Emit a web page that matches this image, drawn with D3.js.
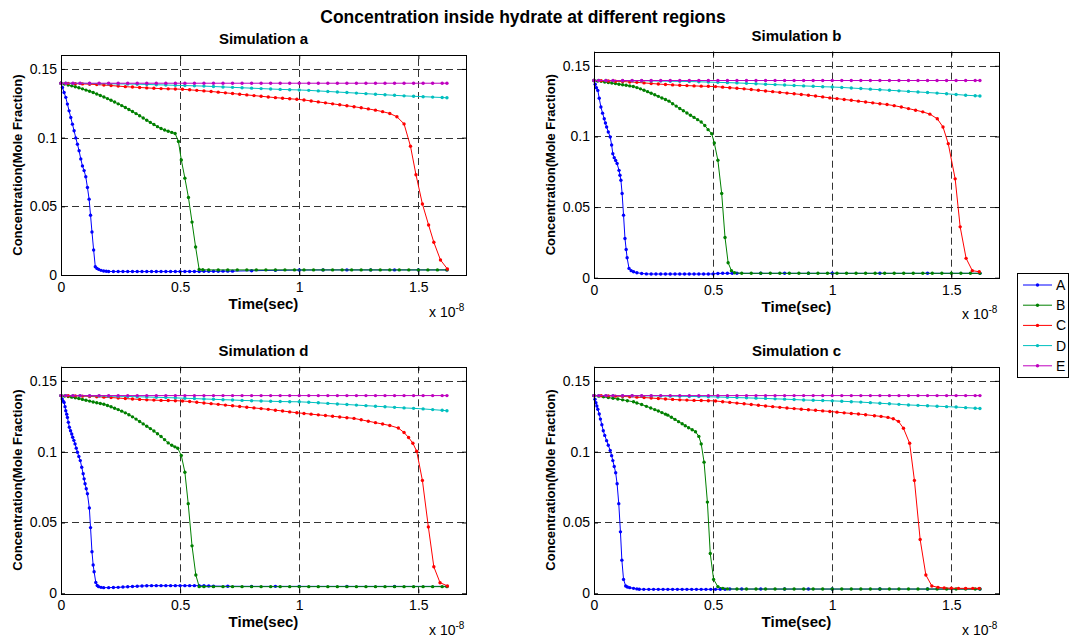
<!DOCTYPE html>
<html><head><meta charset="utf-8">
<script src="https://cdn.jsdelivr.net/npm/d3@7"></script>
<style>body{margin:0;background:#fff}svg{display:block}text{font-family:"Liberation Sans",Arial,Helvetica,sans-serif}</style>
</head><body><script>
// ---------------- DATA (time in units of 1e-8 s, concentration in mole fraction) ----------------
const mainTitle = "Concentration inside hydrate at different regions";
const panelTitles = ["Simulation a", "Simulation b", "Simulation d", "Simulation c"];
const seriesNames = ["A", "B", "C", "D", "E"];
const xTicks = [0, 0.5, 1, 1.5];
const xTickLabels = ["0", "0.5", "1", "1.5"];
const yTicks = [0, 0.05, 0.1, 0.15];
const yTickLabels = ["0", "0.05", "0.1", "0.15"];
const xLabel = "Time(sec)";
const yLabel = "Concentration(Mole Fraction)";
const xDomain = [0, 1.7];
const yDomain = [0, 0.16];

// shared time grid of the slow series D and E
const tDE = [0,0.02,0.05,0.08,0.12,0.16,0.2,0.24,0.28,0.32,0.36,0.4,0.44,0.48,0.52,0.56,0.6,0.64,0.68,0.72,0.76,0.8,0.84,0.88,0.92,0.96,1.0,1.04,1.08,1.12,1.16,1.2,1.24,1.28,1.32,1.36,1.4,1.44,1.48,1.52,1.56,1.6,1.62];
const valsE = [0.1396,0.1396,0.1396,0.1396,0.1396,0.1396,0.1396,0.1396,0.1396,0.1396,0.1396,0.1396,0.1396,0.1396,0.1396,0.1396,0.1396,0.1396,0.1396,0.1396,0.1396,0.1396,0.1396,0.1396,0.1396,0.1396,0.1396,0.1396,0.1396,0.1396,0.1396,0.1396,0.1396,0.1396,0.1396,0.1396,0.1396,0.1396,0.1396,0.1396,0.1396,0.1396,0.1396];

// ---- Simulation a ----
const simA_A = [[0,0.1396],[0.006,0.1365],[0.013,0.1329],[0.020,0.1293],[0.027,0.1244],[0.034,0.1195],[0.041,0.1146],[0.048,0.1098],[0.055,0.1050],[0.062,0.0998],[0.069,0.0952],[0.076,0.0904],[0.083,0.0845],[0.090,0.0794],[0.097,0.0760],[0.104,0.0715],[0.111,0.0637],[0.118,0.0552],[0.124,0.0435],[0.130,0.0313],[0.137,0.0182],[0.144,0.0060],[0.151,0.0048],[0.158,0.0041],[0.168,0.0034],[0.179,0.0029],[0.19,0.0027],[0.20,0.0026],[0.22,0.0025],[0.24,0.0025],[0.26,0.0025],[0.28,0.0025],[0.30,0.0025],[0.32,0.0025],[0.34,0.0025],[0.36,0.0025],[0.38,0.0025],[0.40,0.0025],[0.42,0.0025],[0.44,0.0025],[0.46,0.0025],[0.48,0.0025],[0.50,0.0025],[0.52,0.0026],[0.54,0.0026],[0.56,0.0026],[0.58,0.0026],[0.60,0.0027],[0.62,0.0027],[0.64,0.0027],[0.66,0.0027],[0.68,0.0028],[0.70,0.0028],[0.72,0.0028],[0.8,0.0031],[0.9,0.0034],[1.0,0.0036],[1.1,0.0037],[1.2,0.0037],[1.3,0.0037],[1.4,0.0037],[1.5,0.0037],[1.62,0.0037]];
const simA_B = [[0,0.1396],[0.015,0.1390],[0.03,0.1383],[0.045,0.1377],[0.06,0.1370],[0.075,0.1363],[0.09,0.1355],[0.105,0.1346],[0.12,0.1338],[0.135,0.1328],[0.15,0.1318],[0.165,0.1307],[0.18,0.1296],[0.195,0.1284],[0.21,0.1272],[0.225,0.1259],[0.24,0.1246],[0.255,0.1233],[0.27,0.1219],[0.285,0.1205],[0.30,0.1190],[0.315,0.1175],[0.33,0.1159],[0.345,0.1143],[0.36,0.1127],[0.375,0.1111],[0.39,0.1095],[0.405,0.1080],[0.42,0.1066],[0.435,0.1055],[0.45,0.1046],[0.465,0.1038],[0.479,0.1030],[0.493,0.0972],[0.505,0.0838],[0.520,0.0705],[0.535,0.0564],[0.550,0.0385],[0.565,0.0204],[0.580,0.0040],[0.595,0.0038],[0.62,0.0037],[0.66,0.0037],[0.70,0.0037],[0.74,0.0037],[0.78,0.0037],[0.82,0.0037],[0.86,0.0037],[0.90,0.0037],[0.94,0.0037],[0.98,0.0037],[1.02,0.0037],[1.06,0.0037],[1.10,0.0037],[1.14,0.0037],[1.18,0.0037],[1.22,0.0037],[1.26,0.0037],[1.30,0.0037],[1.34,0.0037],[1.38,0.0037],[1.42,0.0037],[1.46,0.0037],[1.50,0.0037],[1.54,0.0037],[1.58,0.0037],[1.62,0.0037]];
const simA_C = [[0,0.1396],[0.03,0.1395],[0.06,0.1393],[0.09,0.1391],[0.12,0.1389],[0.15,0.1386],[0.18,0.1383],[0.21,0.1379],[0.24,0.1375],[0.27,0.1371],[0.30,0.1368],[0.33,0.1365],[0.36,0.1362],[0.39,0.1359],[0.42,0.1357],[0.45,0.1355],[0.48,0.1354],[0.51,0.1352],[0.54,0.1348],[0.57,0.1344],[0.60,0.1340],[0.63,0.1336],[0.66,0.1331],[0.69,0.1326],[0.72,0.1321],[0.75,0.1316],[0.78,0.1311],[0.81,0.1306],[0.84,0.1301],[0.87,0.1296],[0.90,0.1291],[0.93,0.1287],[0.96,0.1283],[0.99,0.1279],[1.02,0.1274],[1.05,0.1267],[1.08,0.1260],[1.11,0.1253],[1.14,0.1246],[1.17,0.1239],[1.20,0.1232],[1.23,0.1225],[1.26,0.1217],[1.29,0.1209],[1.32,0.1200],[1.35,0.1189],[1.38,0.1176],[1.41,0.1152],[1.44,0.1100],[1.467,0.0937],[1.49,0.0730],[1.517,0.0517],[1.543,0.0364],[1.565,0.0238],[1.593,0.0109],[1.622,0.0044]];
const simA_D = [0.1396,0.1396,0.1395,0.1395,0.1394,0.1393,0.1392,0.1391,0.1390,0.1389,0.1387,0.1385,0.1383,0.1381,0.1379,0.1377,0.1375,0.1372,0.1369,0.1366,0.1363,0.1360,0.1357,0.1354,0.1351,0.1349,0.1347,0.1344,0.1340,0.1336,0.1332,0.1328,0.1324,0.1320,0.1316,0.1312,0.1308,0.1304,0.1301,0.1298,0.1295,0.1292,0.1290];

// ---- Simulation b ----
const simB_A = [[0,0.1396],[0.005,0.1370],[0.010,0.1345],[0.016,0.1326],[0.022,0.1270],[0.029,0.1208],[0.036,0.1165],[0.043,0.1125],[0.048,0.1095],[0.053,0.1067],[0.060,0.1032],[0.068,0.0996],[0.074,0.0940],[0.079,0.0878],[0.085,0.0850],[0.091,0.0830],[0.097,0.0808],[0.105,0.0760],[0.109,0.0725],[0.113,0.0690],[0.118,0.0596],[0.124,0.0443],[0.130,0.0278],[0.135,0.0200],[0.139,0.0141],[0.147,0.0066],[0.156,0.0050],[0.166,0.0042],[0.18,0.0035],[0.20,0.0030],[0.22,0.0027],[0.24,0.0026],[0.26,0.0026],[0.28,0.0026],[0.30,0.0026],[0.32,0.0026],[0.34,0.0026],[0.36,0.0026],[0.38,0.0026],[0.40,0.0026],[0.42,0.0026],[0.44,0.0026],[0.46,0.0026],[0.48,0.0026],[0.50,0.0027],[0.52,0.0030],[0.54,0.0031],[0.56,0.0031],[0.58,0.0031],[0.60,0.0031],[0.7,0.0031],[0.8,0.0031],[0.9,0.0031],[1.0,0.0031],[1.2,0.0031],[1.4,0.0031],[1.62,0.0031]];
const simB_B = [[0,0.1396],[0.015,0.1393],[0.03,0.1390],[0.045,0.1386],[0.06,0.1382],[0.075,0.1378],[0.09,0.1374],[0.105,0.1370],[0.12,0.1366],[0.135,0.1362],[0.15,0.1358],[0.165,0.1354],[0.18,0.1346],[0.195,0.1337],[0.21,0.1327],[0.225,0.1317],[0.24,0.1306],[0.255,0.1295],[0.27,0.1284],[0.285,0.1272],[0.30,0.1262],[0.315,0.1250],[0.33,0.1232],[0.345,0.1215],[0.36,0.1198],[0.375,0.1182],[0.39,0.1166],[0.405,0.1150],[0.42,0.1135],[0.435,0.1119],[0.45,0.1102],[0.465,0.1078],[0.479,0.1048],[0.494,0.1020],[0.505,0.0954],[0.520,0.0831],[0.536,0.0596],[0.550,0.0285],[0.563,0.0106],[0.577,0.0050],[0.59,0.0035],[0.62,0.0031],[0.66,0.0031],[0.70,0.0031],[0.74,0.0031],[0.78,0.0031],[0.82,0.0031],[0.86,0.0031],[0.90,0.0031],[0.94,0.0031],[0.98,0.0031],[1.02,0.0031],[1.06,0.0031],[1.10,0.0031],[1.14,0.0031],[1.18,0.0031],[1.22,0.0031],[1.26,0.0031],[1.30,0.0031],[1.34,0.0031],[1.38,0.0031],[1.42,0.0031],[1.46,0.0031],[1.50,0.0031],[1.54,0.0031],[1.58,0.0031],[1.62,0.0031]];
const simB_C = [[0,0.1396],[0.03,0.1395],[0.06,0.1393],[0.09,0.1391],[0.12,0.1389],[0.15,0.1386],[0.18,0.1383],[0.21,0.1379],[0.24,0.1375],[0.27,0.1371],[0.30,0.1368],[0.33,0.1365],[0.36,0.1362],[0.39,0.1360],[0.42,0.1358],[0.45,0.1356],[0.48,0.1355],[0.51,0.1353],[0.54,0.1349],[0.57,0.1345],[0.60,0.1341],[0.63,0.1337],[0.66,0.1332],[0.69,0.1327],[0.72,0.1322],[0.75,0.1317],[0.78,0.1312],[0.81,0.1307],[0.84,0.1302],[0.87,0.1297],[0.90,0.1292],[0.93,0.1286],[0.96,0.1280],[0.99,0.1273],[1.02,0.1268],[1.05,0.1262],[1.08,0.1256],[1.11,0.1250],[1.14,0.1244],[1.17,0.1238],[1.20,0.1232],[1.23,0.1226],[1.26,0.1218],[1.29,0.1208],[1.32,0.1197],[1.35,0.1186],[1.38,0.1174],[1.41,0.1158],[1.441,0.1125],[1.465,0.1067],[1.487,0.0949],[1.516,0.0700],[1.537,0.0360],[1.562,0.0137],[1.588,0.0050],[1.617,0.0042]];
const simB_D = [0.1396,0.1396,0.1396,0.1395,0.1395,0.1394,0.1394,0.1393,0.1392,0.1391,0.1390,0.1389,0.1387,0.1385,0.1383,0.1381,0.1379,0.1376,0.1373,0.1370,0.1367,0.1364,0.1361,0.1358,0.1355,0.1352,0.1350,0.1347,0.1343,0.1339,0.1335,0.1331,0.1327,0.1323,0.1319,0.1315,0.1311,0.1307,0.1302,0.1297,0.1292,0.1288,0.1286];

// ---- Simulation d ----
const simD_A = [[0,0.1396],[0.005,0.1372],[0.009,0.1357],[0.013,0.1348],[0.017,0.1318],[0.020,0.1289],[0.024,0.1265],[0.027,0.1242],[0.031,0.1207],[0.035,0.1172],[0.040,0.1148],[0.045,0.1125],[0.049,0.1102],[0.054,0.1080],[0.059,0.1055],[0.064,0.1025],[0.069,0.0996],[0.075,0.0966],[0.081,0.0937],[0.087,0.0890],[0.093,0.0844],[0.097,0.0808],[0.101,0.0773],[0.106,0.0738],[0.111,0.0703],[0.119,0.0602],[0.124,0.0464],[0.130,0.0293],[0.135,0.0200],[0.139,0.0152],[0.146,0.0077],[0.152,0.0055],[0.158,0.0047],[0.168,0.0042],[0.179,0.0040],[0.20,0.0040],[0.22,0.0041],[0.24,0.0042],[0.26,0.0044],[0.28,0.0046],[0.30,0.0048],[0.32,0.0050],[0.34,0.0052],[0.36,0.0053],[0.38,0.0054],[0.40,0.0054],[0.42,0.0054],[0.44,0.0054],[0.46,0.0054],[0.48,0.0054],[0.50,0.0054],[0.52,0.0054],[0.54,0.0054],[0.56,0.0054],[0.58,0.0054],[0.60,0.0053],[0.62,0.0052],[0.64,0.0051],[0.7,0.0050],[0.8,0.0049],[0.9,0.0049],[1.0,0.0049],[1.2,0.0049],[1.4,0.0049],[1.62,0.0049]];
const simD_B = [[0,0.1396],[0.015,0.1393],[0.03,0.1389],[0.045,0.1385],[0.06,0.1380],[0.075,0.1375],[0.09,0.1369],[0.105,0.1363],[0.12,0.1357],[0.135,0.1351],[0.15,0.1345],[0.165,0.1340],[0.18,0.1335],[0.195,0.1326],[0.21,0.1317],[0.225,0.1307],[0.24,0.1297],[0.255,0.1286],[0.27,0.1274],[0.285,0.1261],[0.30,0.1246],[0.315,0.1230],[0.33,0.1213],[0.345,0.1196],[0.36,0.1180],[0.375,0.1163],[0.39,0.1146],[0.405,0.1127],[0.42,0.1107],[0.435,0.1085],[0.45,0.1062],[0.465,0.1045],[0.478,0.1034],[0.49,0.1024],[0.505,0.0973],[0.520,0.0855],[0.534,0.0633],[0.550,0.0335],[0.566,0.0129],[0.580,0.0047],[0.60,0.0047],[0.64,0.0047],[0.68,0.0047],[0.72,0.0047],[0.76,0.0047],[0.80,0.0047],[0.84,0.0047],[0.88,0.0047],[0.92,0.0047],[0.96,0.0047],[1.00,0.0047],[1.04,0.0047],[1.08,0.0047],[1.12,0.0047],[1.16,0.0047],[1.20,0.0047],[1.24,0.0047],[1.28,0.0047],[1.32,0.0047],[1.36,0.0047],[1.40,0.0047],[1.44,0.0047],[1.48,0.0047],[1.52,0.0047],[1.56,0.0047],[1.60,0.0047],[1.62,0.0047]];
const simD_C = [[0,0.1396],[0.03,0.1395],[0.06,0.1394],[0.09,0.1392],[0.12,0.1390],[0.15,0.1388],[0.18,0.1385],[0.21,0.1382],[0.24,0.1379],[0.27,0.1375],[0.30,0.1372],[0.33,0.1369],[0.36,0.1366],[0.39,0.1364],[0.42,0.1362],[0.45,0.1361],[0.48,0.1360],[0.51,0.1358],[0.54,0.1354],[0.57,0.1349],[0.60,0.1344],[0.63,0.1339],[0.66,0.1334],[0.69,0.1329],[0.72,0.1324],[0.75,0.1319],[0.78,0.1314],[0.81,0.1309],[0.84,0.1304],[0.87,0.1299],[0.90,0.1293],[0.93,0.1287],[0.96,0.1281],[0.99,0.1275],[1.02,0.1270],[1.05,0.1265],[1.08,0.1260],[1.11,0.1255],[1.14,0.1250],[1.17,0.1245],[1.20,0.1240],[1.23,0.1235],[1.26,0.1225],[1.29,0.1215],[1.32,0.1205],[1.35,0.1195],[1.38,0.1185],[1.416,0.1167],[1.44,0.1135],[1.459,0.1100],[1.477,0.1060],[1.493,0.1003],[1.517,0.0797],[1.542,0.0469],[1.565,0.0187],[1.591,0.0075],[1.622,0.0052]];
const simD_D = [0.1396,0.1396,0.1396,0.1395,0.1394,0.1393,0.1392,0.1391,0.1390,0.1388,0.1386,0.1384,0.1382,0.1380,0.1377,0.1375,0.1372,0.1370,0.1367,0.1365,0.1362,0.1360,0.1358,0.1356,0.1354,0.1353,0.1352,0.1349,0.1345,0.1341,0.1337,0.1333,0.1329,0.1325,0.1321,0.1317,0.1313,0.1309,0.1306,0.1302,0.1297,0.1292,0.1289];

// ---- Simulation c ----
const simC_A = [[0,0.1396],[0.004,0.1370],[0.008,0.1345],[0.012,0.1322],[0.016,0.1300],[0.022,0.1266],[0.027,0.1230],[0.033,0.1190],[0.039,0.1148],[0.045,0.1115],[0.053,0.1078],[0.060,0.1045],[0.068,0.1008],[0.074,0.0972],[0.079,0.0937],[0.085,0.0895],[0.091,0.0851],[0.097,0.0773],[0.104,0.0633],[0.111,0.0434],[0.117,0.0234],[0.124,0.0098],[0.133,0.0052],[0.140,0.0045],[0.150,0.0040],[0.166,0.0035],[0.18,0.0031],[0.19,0.0029],[0.209,0.0028],[0.23,0.0028],[0.25,0.0028],[0.27,0.0028],[0.29,0.0028],[0.31,0.0028],[0.33,0.0028],[0.35,0.0028],[0.37,0.0028],[0.39,0.0028],[0.41,0.0028],[0.43,0.0028],[0.45,0.0028],[0.47,0.0028],[0.49,0.0028],[0.51,0.0028],[0.53,0.0029],[0.55,0.0029],[0.57,0.0030],[0.62,0.0030],[0.7,0.0030],[0.8,0.0030],[0.9,0.0030],[1.0,0.0030],[1.2,0.0030],[1.4,0.0030],[1.62,0.0030]];
const simC_B = [[0,0.1396],[0.02,0.1392],[0.04,0.1387],[0.06,0.1382],[0.08,0.1377],[0.10,0.1372],[0.12,0.1366],[0.14,0.1360],[0.166,0.1352],[0.18,0.1344],[0.20,0.1333],[0.22,0.1320],[0.238,0.1308],[0.255,0.1297],[0.27,0.1287],[0.285,0.1276],[0.30,0.1265],[0.31,0.1258],[0.325,0.1243],[0.34,0.1228],[0.355,0.1212],[0.37,0.1197],[0.383,0.1183],[0.397,0.1169],[0.412,0.1155],[0.426,0.1141],[0.440,0.1108],[0.450,0.1055],[0.462,0.0926],[0.476,0.0644],[0.488,0.0281],[0.502,0.0098],[0.520,0.0047],[0.541,0.0035],[0.56,0.0031],[0.60,0.0030],[0.64,0.0030],[0.68,0.0030],[0.72,0.0030],[0.76,0.0030],[0.80,0.0030],[0.84,0.0030],[0.88,0.0030],[0.92,0.0030],[0.96,0.0030],[1.00,0.0030],[1.04,0.0030],[1.08,0.0030],[1.12,0.0030],[1.16,0.0030],[1.20,0.0030],[1.24,0.0030],[1.28,0.0030],[1.32,0.0030],[1.36,0.0030],[1.40,0.0030],[1.44,0.0030],[1.48,0.0030],[1.52,0.0030],[1.56,0.0030],[1.60,0.0030],[1.62,0.0030]];
const simC_C = [[0,0.1396],[0.03,0.1395],[0.06,0.1394],[0.09,0.1392],[0.12,0.1390],[0.15,0.1388],[0.18,0.1385],[0.21,0.1382],[0.24,0.1379],[0.27,0.1375],[0.30,0.1372],[0.33,0.1369],[0.36,0.1366],[0.39,0.1364],[0.42,0.1362],[0.45,0.1361],[0.48,0.1360],[0.51,0.1358],[0.54,0.1353],[0.57,0.1348],[0.60,0.1343],[0.63,0.1338],[0.66,0.1333],[0.69,0.1328],[0.72,0.1323],[0.75,0.1318],[0.78,0.1313],[0.81,0.1308],[0.84,0.1304],[0.87,0.1300],[0.90,0.1296],[0.93,0.1292],[0.96,0.1288],[0.99,0.1284],[1.02,0.1279],[1.05,0.1274],[1.08,0.1270],[1.11,0.1266],[1.14,0.1261],[1.177,0.1254],[1.205,0.1249],[1.234,0.1242],[1.256,0.1232],[1.278,0.1214],[1.299,0.1165],[1.325,0.1059],[1.345,0.0797],[1.369,0.0380],[1.393,0.0129],[1.418,0.0052],[1.444,0.0042],[1.47,0.0038],[1.50,0.0036],[1.53,0.0035],[1.56,0.0035],[1.59,0.0035],[1.617,0.0035]];
const simC_D = [0.1396,0.1396,0.1396,0.1396,0.1395,0.1395,0.1394,0.1394,0.1393,0.1392,0.1391,0.1390,0.1389,0.1388,0.1386,0.1384,0.1382,0.1380,0.1378,0.1376,0.1373,0.1371,0.1368,0.1365,0.1363,0.1361,0.1359,0.1356,0.1353,0.1350,0.1346,0.1342,0.1338,0.1334,0.1330,0.1327,0.1324,0.1321,0.1318,0.1315,0.1311,0.1307,0.1305];

// ---------------- STYLE / LAYOUT ----------------
const colors = ["#0000ff", "#008000", "#ff0000", "#00bfbf", "#bf00bf"];
const layouts = [
  {l: 61,  t: 55.2,  w: 405, h: 219.8},
  {l: 594, t: 51.7,  w: 405, h: 226},
  {l: 61,  t: 366.7, w: 405, h: 226.6},
  {l: 594, t: 366.7, w: 405, h: 226.6}
];
const zip = (ts, vs) => ts.map((t, i) => [t, vs[i]]);
const panelSeries = [
  [simA_A, simA_B, simA_C, zip(tDE, simA_D), zip(tDE, valsE)],
  [simB_A, simB_B, simB_C, zip(tDE, simB_D), zip(tDE, valsE)],
  [simD_A, simD_B, simD_C, zip(tDE, simD_D), zip(tDE, valsE)],
  [simC_A, simC_B, simC_C, zip(tDE, simC_D), zip(tDE, valsE)]
];

const W = 1069, H = 637;
const svg = d3.select("body").append("svg").attr("width", W).attr("height", H);
svg.append("rect").attr("width", W).attr("height", H).attr("fill", "#fff");

svg.append("text").attr("x", 523).attr("y", 23).attr("text-anchor", "middle")
  .attr("font-size", 17.5).attr("font-weight", "bold").text(mainTitle);

layouts.forEach((L, i) => {
  const x = d3.scaleLinear().domain(xDomain).range([L.l, L.l + L.w]);
  const y = d3.scaleLinear().domain(yDomain).range([L.t + L.h, L.t]);
  const g = svg.append("g");

  // grid
  g.selectAll(".gx").data(xTicks.filter(v => v > 0)).join("line")
    .attr("x1", d => Math.round(x(d)) + 0.5).attr("x2", d => Math.round(x(d)) + 0.5)
    .attr("y1", y(yDomain[0])).attr("y2", y(yDomain[1]))
    .attr("stroke", "#333").attr("stroke-width", 1).attr("stroke-dasharray", "7,4");
  g.selectAll(".gy").data(yTicks.filter(v => v > 0)).join("line")
    .attr("y1", d => Math.round(y(d)) + 0.5).attr("y2", d => Math.round(y(d)) + 0.5)
    .attr("x1", x(xDomain[0])).attr("x2", x(xDomain[1]))
    .attr("stroke", "#333").attr("stroke-width", 1).attr("stroke-dasharray", "7,4");

  // series
  const line = d3.line().x(d => x(d[0])).y(d => y(d[1]));
  panelSeries[i].forEach((s, k) => {
    g.append("path").datum(s).attr("d", line).attr("fill", "none")
      .attr("stroke", colors[k]).attr("stroke-width", 1);
    g.append("g").selectAll("circle").data(s).join("circle")
      .attr("cx", d => x(d[0])).attr("cy", d => y(d[1])).attr("r", 1.7)
      .attr("fill", colors[k]);
  });

  // box
  g.append("rect").attr("x", Math.round(L.l) + 0.5).attr("y", Math.round(L.t) + 0.5)
    .attr("width", Math.round(L.w)).attr("height", Math.round(L.h))
    .attr("fill", "none").attr("stroke", "#000").attr("stroke-width", 1);

  const styleAxis = sel => {
    sel.select(".domain").remove();
    sel.selectAll("line").attr("stroke", "#000");
    sel.selectAll("text").attr("font-size", 14).attr("fill", "#000")
      .attr("font-family", '"Liberation Sans",Arial,sans-serif');
  };
  g.append("g").attr("transform", `translate(0,${L.t + L.h})`)
    .call(d3.axisBottom(x).tickValues(xTicks).tickFormat((d, j) => xTickLabels[j]).tickSize(-4).tickPadding(7))
    .call(styleAxis);
  g.append("g").attr("transform", `translate(0,${L.t})`)
    .call(d3.axisTop(x).tickValues(xTicks).tickFormat("").tickSize(-4)).call(styleAxis);
  g.append("g").attr("transform", `translate(${L.l},0)`)
    .call(d3.axisLeft(y).tickValues(yTicks).tickFormat((d, j) => yTickLabels[j]).tickSize(-4).tickPadding(4))
    .call(styleAxis);
  g.append("g").attr("transform", `translate(${L.l + L.w},0)`)
    .call(d3.axisRight(y).tickValues(yTicks).tickFormat("").tickSize(-4)).call(styleAxis);

  // titles and labels
  g.append("text").attr("x", L.l + L.w / 2).attr("y", L.t - 11).attr("text-anchor", "middle")
    .attr("font-size", 15).attr("font-weight", "bold").text(panelTitles[i]);
  g.append("text").attr("x", L.l + L.w / 2).attr("y", L.t + L.h + 34).attr("text-anchor", "middle")
    .attr("font-size", 15).attr("font-weight", "bold").text(xLabel);
  g.append("text").attr("transform", `translate(${L.l - 44},${L.t + L.h / 2}) rotate(-90)`)
    .attr("text-anchor", "middle").attr("dy", "0.35em")
    .attr("font-size", 13).attr("font-weight", "bold").text(yLabel);
  const ex = g.append("text").attr("x", L.l + L.w - 37).attr("y", L.t + L.h + 41.5).attr("font-size", 14);
  ex.append("tspan").text("x 10");
  ex.append("tspan").attr("dy", -6).attr("font-size", 10).text("-8");
});

// legend
const lg = svg.append("g");
lg.append("rect").attr("x", 1017.5).attr("y", 273.5).attr("width", 51).attr("height", 104)
  .attr("fill", "#fff").attr("stroke", "#000").attr("stroke-width", 1);
seriesNames.forEach((n, k) => {
  const yy = 285 + k * 20.2;
  lg.append("line").attr("x1", 1023).attr("x2", 1052).attr("y1", yy).attr("y2", yy)
    .attr("stroke", colors[k]).attr("stroke-width", 1);
  lg.append("circle").attr("cx", 1037.5).attr("cy", yy).attr("r", 1.7).attr("fill", colors[k]);
  lg.append("text").attr("x", 1056).attr("y", yy + 5).attr("font-size", 14).text(n);
});
</script></body></html>
